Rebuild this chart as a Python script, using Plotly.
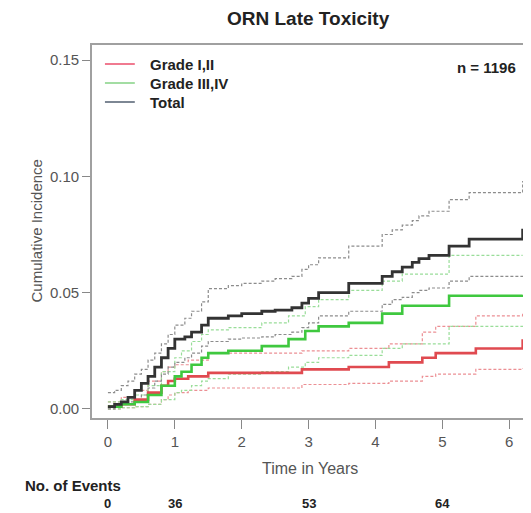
import plotly.graph_objects as go

# ---------------- data ----------------
total_t = [0.0, 0.1, 0.2, 0.3, 0.4, 0.5, 0.6, 0.7, 0.8, 0.9, 1.0, 1.15, 1.25, 1.4, 1.5, 1.8,
           2.0, 2.3, 2.5, 2.75, 2.9, 3.0, 3.15, 3.6, 4.1, 4.25, 4.4, 4.55, 4.65, 4.8, 5.1, 5.4, 6.2]
total_y = [0.001, 0.002, 0.003, 0.005, 0.008, 0.011, 0.014, 0.018, 0.022, 0.026, 0.030, 0.031, 0.033,
           0.036, 0.039, 0.040, 0.041, 0.042, 0.0425, 0.0435, 0.0455, 0.0475, 0.050, 0.054, 0.057, 0.059,
           0.061, 0.063, 0.0646, 0.066, 0.070, 0.073, 0.0775]
total_lo = [0.0, 0.001, 0.002, 0.003, 0.004, 0.006, 0.009, 0.012, 0.015, 0.018, 0.020, 0.022, 0.024,
            0.027, 0.029, 0.030, 0.0305, 0.031, 0.032, 0.033, 0.035, 0.037, 0.040, 0.042, 0.045, 0.047,
            0.048, 0.050, 0.051, 0.052, 0.055, 0.057, 0.058]
total_hi = [0.007, 0.008, 0.010, 0.012, 0.015, 0.017, 0.021, 0.024, 0.028, 0.032, 0.036, 0.039, 0.042,
            0.046, 0.0517, 0.053, 0.054, 0.055, 0.056, 0.057, 0.060, 0.062, 0.065, 0.070, 0.075, 0.077,
            0.079, 0.081, 0.083, 0.085, 0.090, 0.093, 0.098]

g12_t = [0.0, 0.2, 0.4, 0.6, 0.8, 0.9, 1.0, 1.2, 1.5, 2.9, 3.6, 4.2, 4.7, 4.9, 5.5, 6.2]
g12_y = [0.001, 0.002, 0.004, 0.007, 0.010, 0.012, 0.013, 0.014, 0.0155, 0.017, 0.018, 0.020,
         0.022, 0.024, 0.026, 0.030]
g12_lo = [0.0, 0.0005, 0.001, 0.002, 0.004, 0.006, 0.007, 0.008, 0.009, 0.0105, 0.011, 0.012,
          0.014, 0.015, 0.017, 0.0175]
g12_hi = [0.003, 0.005, 0.008, 0.012, 0.016, 0.018, 0.019, 0.021, 0.024, 0.025, 0.026, 0.028,
          0.033, 0.0355, 0.040, 0.041]

g34_t = [0.0, 0.2, 0.4, 0.6, 0.8, 1.0, 1.1, 1.25, 1.4, 1.5, 1.8, 2.3, 2.7, 2.95, 3.15, 3.6,
         4.1, 4.4, 5.1, 6.2]
g34_y = [0.001, 0.002, 0.003, 0.006, 0.010, 0.014, 0.016, 0.019, 0.022, 0.024, 0.025, 0.027,
         0.030, 0.0335, 0.0355, 0.037, 0.041, 0.0444, 0.0487, 0.049]
g34_lo = [0.0, 0.0005, 0.001, 0.002, 0.004, 0.007, 0.008, 0.010, 0.012, 0.013, 0.015, 0.016,
          0.018, 0.020, 0.022, 0.023, 0.026, 0.028, 0.0355, 0.036]
g34_hi = [0.003, 0.004, 0.006, 0.010, 0.016, 0.022, 0.025, 0.029, 0.032, 0.034, 0.035, 0.037,
          0.040, 0.044, 0.047, 0.051, 0.055, 0.058, 0.066, 0.066]

series_names = ["Grade I,II", "Grade III,IV", "Total"]
event_times = [0, 1, 3, 5]
event_counts = ["0", "36", "53", "64"]
x_ticks = [0, 1, 2, 3, 4, 5, 6]
y_ticks = [0.00, 0.05, 0.10, 0.15]
n_label = "n = 1196"

# ---------------- styling ----------------
RED, RED_CI = "#e04a50", "#ec8f94"
GREEN, GREEN_CI = "#3fc83f", "#99dd99"
BLACK, BLACK_CI = "#333333", "#8c8c8c"
LEG_COLORS = ["#f07a90", "#a3dda3", "#7d8794"]
FONT = "Liberation Sans, Arial, sans-serif"

# the page body has an 8px margin, so the figure is 8px smaller than the window
W, H = 523, 505
ML, MR, MT, MB = 84, 4, 37, 95
PLOT_W = W - ML - MR
PLOT_H = H - MT - MB

fig = go.Figure()


def add_ci(t, y, color):
    fig.add_trace(go.Scatter(x=t, y=y, mode="lines", line_shape="hv", showlegend=False,
                             line=dict(color=color, width=1.2, dash="3px,2px")))


def add_main(t, y, color, w):
    fig.add_trace(go.Scatter(x=t, y=y, mode="lines", line_shape="hv", showlegend=False,
                             line=dict(color=color, width=w)))


add_ci(g12_t, g12_lo, RED_CI)
add_ci(g12_t, g12_hi, RED_CI)
add_ci(g34_t, g34_lo, GREEN_CI)
add_ci(g34_t, g34_hi, GREEN_CI)
add_ci(total_t, total_lo, BLACK_CI)
add_ci(total_t, total_hi, BLACK_CI)
add_main(g12_t, g12_y, RED, 2.6)
add_main(g34_t, g34_y, GREEN, 2.6)
add_main(total_t, total_y, BLACK, 2.8)

fig.update_layout(
    width=W, height=H,
    margin=dict(l=ML, r=MR, t=MT, b=MB),
    plot_bgcolor="white", paper_bgcolor="white",
    font=dict(family=FONT, size=15, color="#333"),
    showlegend=False,
)

fig.update_xaxes(range=[-0.238, 6.235], tickvals=x_ticks, ticktext=[str(v) for v in x_ticks],
                 showgrid=False, zeroline=False, showline=True, mirror=True,
                 linecolor="#a0a0a0", linewidth=1.8,
                 ticks="outside", ticklen=9, tickcolor="#888", tickwidth=1.2,
                 tickfont=dict(size=15, color="#555"))
fig.update_yaxes(range=[-0.0039, 0.1565], tickvals=y_ticks, ticktext=[f"{v:.2f}" for v in y_ticks],
                 showgrid=False, zeroline=False, showline=True, mirror=True,
                 linecolor="#a0a0a0", linewidth=1.8,
                 ticks="outside", ticklen=8, tickcolor="#888", tickwidth=1.2,
                 tickfont=dict(size=15, color="#555"))

# manual legend (line samples + labels), top-left inside the frame
for i, (name, col) in enumerate(zip(series_names, LEG_COLORS)):
    dy = 19 + 19 * i
    yp = 1 - dy / PLOT_H
    fig.add_shape(type="line", xref="paper", yref="paper", x0=13 / PLOT_W, x1=43 / PLOT_W,
                  y0=yp, y1=yp, line=dict(color=col, width=2))
    fig.add_annotation(text=f"<b>{name}</b>", xref="paper", yref="paper", x=56 / PLOT_W, y=1,
                       yshift=-dy, xanchor="left", yanchor="middle", showarrow=False,
                       font=dict(size=15, color="#222"))

# title
fig.add_annotation(text="<b>ORN Late Toxicity</b>", xref="paper", yref="paper", x=0.5, y=1,
                   yshift=27, showarrow=False, font=dict(size=19, color="#222"), yanchor="middle")
# y title
fig.add_annotation(text="Cumulative Incidence", xref="paper", yref="paper", x=0, y=0.5,
                   xshift=-56, textangle=-90, showarrow=False, font=dict(size=15, color="#555"),
                   xanchor="center", yanchor="middle")
# x title
fig.add_annotation(text="Time in Years", xref="paper", yref="paper", x=0.503, y=0,
                   yshift=-50, showarrow=False, font=dict(size=16, color="#555"), yanchor="middle")
# n label
fig.add_annotation(text=f"<b>{n_label}</b>", xref="paper", yref="paper", x=1, y=1,
                   xshift=-7, yshift=-22, xanchor="right", yanchor="middle", showarrow=False,
                   font=dict(size=15, color="#222"))
# number of events
fig.add_annotation(text="<b>No. of Events</b>", xref="paper", yref="paper", x=0, y=0,
                   xshift=-69, yshift=-67, xanchor="left", yanchor="middle", showarrow=False,
                   font=dict(size=15, color="#222"))
for t, c in zip(event_times, event_counts):
    fig.add_annotation(text=f"<b>{c}</b>", x=t, xref="x", yref="paper", y=0, yshift=-85,
                       yanchor="middle", showarrow=False, font=dict(size=13, color="#222"))

fig.write_html("out.html")
